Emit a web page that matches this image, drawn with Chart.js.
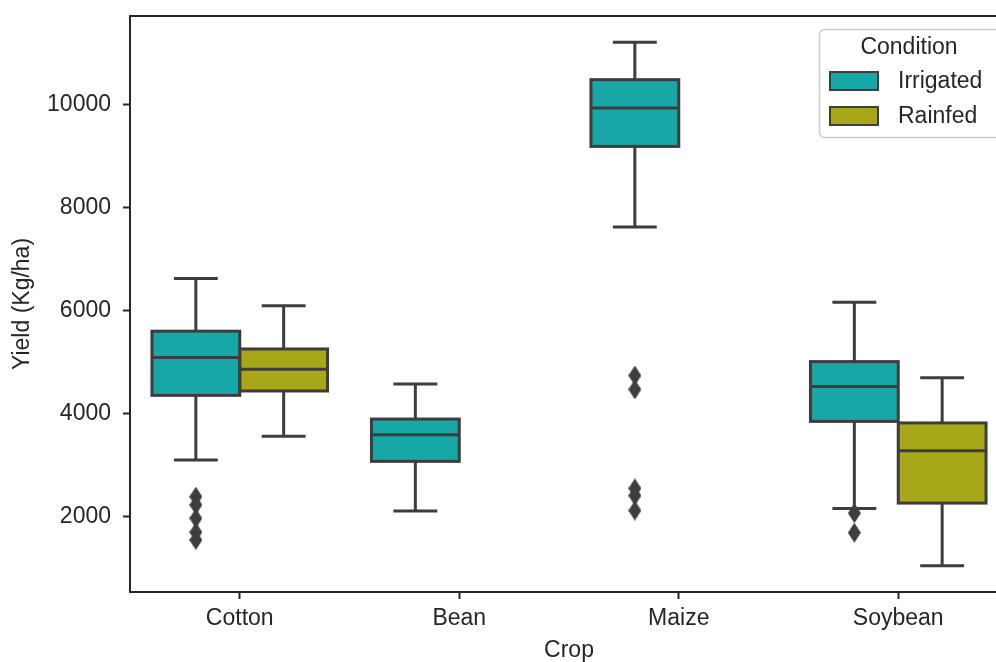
<!DOCTYPE html>
<html>
<head>
<meta charset="utf-8">
<title>Yield by crop</title>
<script src="https://cdn.jsdelivr.net/npm/chart.js@4.4.1/dist/chart.umd.min.js"></script>
<style>
    html, body { margin: 0; padding: 0; background: #fff; width: 996px; height: 662px; overflow: hidden; }
    canvas { position: absolute; left: 0; top: 0; }
</style>
</head>
<body>
<canvas id="yieldChart" width="1020" height="662"></canvas>
<script>
// Data
const crops = ['Cotton', 'Bean', 'Maize', 'Soybean'];
const conditions = ['Irrigated', 'Rainfed'];
const yTicks = [2000, 4000, 6000, 8000, 10000];

const irrigatedLow = [3100, 2110, 7620, 2160];
const irrigatedQ1 = [4355, 3075, 9185, 3850];
const irrigatedMedian = [5090, 3590, 9930, 4525];
const irrigatedQ3 = [5600, 3895, 10480, 5010];
const irrigatedHigh = [6620, 4575, 11205, 6160];
const irrigatedOutliers = [[2390, 2230, 1970, 1700, 1550], [], [4740, 4470, 2550, 2410, 2120], [2070, 1690]];

const rainfedLow = [3560, null, null, 1050];
const rainfedQ1 = [4440, null, null, 2265];
const rainfedMedian = [4860, null, null, 3280];
const rainfedQ3 = [5255, null, null, 3820];
const rainfedHigh = [6095, null, null, 4695];
const rainfedOutliers = [[], [], [], []];

const colors = ['#18a7a7', '#a7a718'];
const lineGray = '#3d3d3d';
const textColor = '#262626';
const font = '"Liberation Sans", Arial, sans-serif';

Chart.defaults.font.family = font;
Chart.defaults.font.size = 23;
Chart.defaults.color = textColor;

const boxStats = [
    { low: irrigatedLow, q1: irrigatedQ1, med: irrigatedMedian, q3: irrigatedQ3, high: irrigatedHigh, out: irrigatedOutliers },
    { low: rainfedLow, q1: rainfedQ1, med: rainfedMedian, q3: rainfedQ3, high: rainfedHigh, out: rainfedOutliers }
];

// thin diamond marker, like matplotlib's "d"
function diamondMarker(w, h) {
    const c = document.createElement('canvas');
    c.width = w;
    c.height = h;
    const g = c.getContext('2d');
    g.fillStyle = lineGray;
    g.beginPath();
    g.moveTo(w / 2, 0);
    g.lineTo(w, h / 2);
    g.lineTo(w / 2, h);
    g.lineTo(0, h / 2);
    g.closePath();
    g.fill();
    return c;
}
const diamond = diamondMarker(13, 20);

const boxDatasets = boxStats.map((s, k) => ({
    type: 'bar',
    label: conditions[k],
    data: s.q1.map((q, i) => q == null ? null : [q, s.q3[i]]),
    backgroundColor: colors[k],
    borderWidth: 0,
    categoryPercentage: 0.8,
    barPercentage: 1.0,
    order: 2
}));

// fliers share the category axis; fractional x dodges them like the boxes
const flierDatasets = boxStats.map((s, k) => ({
    type: 'scatter',
    label: conditions[k] + ' outliers',
    parsing: false,
    data: s.out.flatMap((vals, i) => vals.map(v => ({ x: i + (k === 0 ? -0.2 : 0.2), y: v }))),
    pointStyle: diamond,
    pointRadius: 7,
    order: 1
}));

// whiskers, caps, box outlines, medians
const boxDecor = {
    id: 'boxDecor',
    afterDatasetsDraw(chart) {
        const ctx = chart.ctx;
        const y = chart.scales.y;
        const seg = (x1, y1, x2, y2) => {
            ctx.beginPath();
            ctx.moveTo(x1, y1);
            ctx.lineTo(x2, y2);
            ctx.stroke();
        };
        ctx.save();
        ctx.strokeStyle = lineGray;
        ctx.lineWidth = 3;
        boxStats.forEach((s, k) => {
            chart.getDatasetMeta(k).data.forEach((bar, i) => {
                if (s.q1[i] == null) return;
                const cx = bar.x, w = bar.width;
                const top = y.getPixelForValue(s.q3[i]);
                const bot = y.getPixelForValue(s.q1[i]);
                const hi = y.getPixelForValue(s.high[i]);
                const lo = y.getPixelForValue(s.low[i]);
                const md = y.getPixelForValue(s.med[i]);
                seg(cx, top, cx, hi);
                seg(cx, bot, cx, lo);
                seg(cx - w / 4, hi, cx + w / 4, hi);
                seg(cx - w / 4, lo, cx + w / 4, lo);
                ctx.strokeRect(cx - w / 2, top, w, bot - top);
                seg(cx - w / 2, md, cx + w / 2, md);
            });
        });
        ctx.restore();
    }
};

// four spines
const spines = {
    id: 'spines',
    afterDraw(chart) {
        const { left, top, right, bottom } = chart.chartArea;
        const ctx = chart.ctx;
        ctx.save();
        ctx.strokeStyle = textColor;
        ctx.lineWidth = 2;
        ctx.strokeRect(left, top, right - left, bottom - top);
        ctx.restore();
    }
};

// seaborn style legend box in the upper right corner
const boxLegend = {
    id: 'boxLegend',
    afterDraw(chart) {
        const ctx = chart.ctx;
        const x0 = 819.5, y0 = 29.5, w = 183, h = 108;
        ctx.save();
        ctx.beginPath();
        ctx.roundRect(x0, y0, w, h, 5);
        ctx.fillStyle = 'rgba(255,255,255,0.8)';
        ctx.fill();
        ctx.strokeStyle = '#cccccc';
        ctx.lineWidth = 1.5;
        ctx.stroke();

        ctx.fillStyle = textColor;
        ctx.font = '23px ' + font;
        ctx.textAlign = 'center';
        ctx.textBaseline = 'middle';
        ctx.fillText('Condition', 909, 48);

        ctx.textAlign = 'left';
        chart.data.datasets.filter(d => d.type === 'bar').forEach((d, k) => {
            const cy = 81 + k * 35;
            ctx.fillStyle = d.backgroundColor;
            ctx.fillRect(830, cy - 9, 48, 18);
            ctx.strokeStyle = lineGray;
            ctx.lineWidth = 2;
            ctx.strokeRect(830, cy - 9, 48, 18);
            ctx.fillStyle = textColor;
            ctx.fillText(d.label, 898, cy + 1);
        });
        ctx.restore();
    }
};

const noPad = s => { s.paddingTop = 0; s.paddingBottom = 0; s.paddingLeft = 0; s.paddingRight = 0; };

new Chart(document.getElementById('yieldChart'), {
    data: {
        labels: crops,
        datasets: [...boxDatasets, ...flierDatasets]
    },
    options: {
        responsive: false,
        animation: false,
        layout: { padding: { left: 0, top: 16, right: 12, bottom: 0 } },
        plugins: {
            legend: { display: false },
            tooltip: { enabled: false }
        },
        scales: {
            x: {
                type: 'category',
                offset: true,
                grid: { offset: false, drawOnChartArea: false, drawTicks: true, tickLength: 7, tickWidth: 2, tickColor: textColor },
                border: { display: false },
                ticks: { padding: 6, color: textColor },
                title: { display: true, text: 'Crop', color: textColor, font: { lineHeight: 1.0 }, padding: { top: 0, bottom: 0 } },
                afterFit: s => { s.height = 70; noPad(s); }
            },
            y: {
                type: 'linear',
                min: 540,
                max: 11715,
                afterBuildTicks: s => { s.ticks = yTicks.map(v => ({ value: v })); },
                grid: { drawOnChartArea: false, drawTicks: true, tickLength: 7, tickWidth: 2, tickColor: textColor },
                border: { display: false },
                ticks: { padding: 12, color: textColor, callback: v => String(v) },
                title: { display: true, text: 'Yield (Kg/ha)', color: textColor, padding: { top: 9, bottom: 0 } },
                afterFit: s => { s.width = 130; noPad(s); }
            }
        }
    },
    plugins: [boxDecor, spines, boxLegend]
});
</script>
</body>
</html>
